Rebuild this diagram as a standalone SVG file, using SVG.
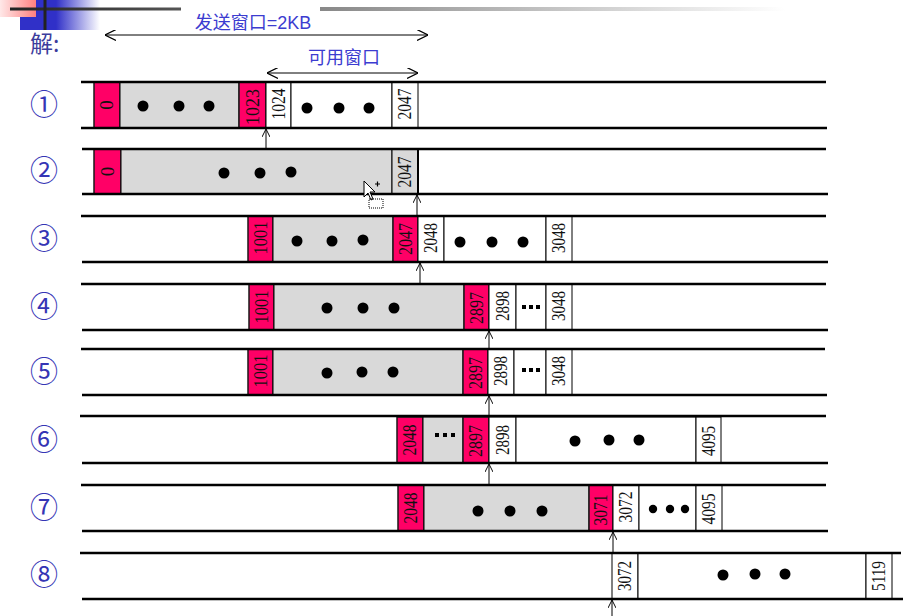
<svg xmlns="http://www.w3.org/2000/svg" width="915" height="616" viewBox="0 0 915 616">
<defs>
<style>
.ln{stroke:#000;stroke-width:2.5;fill:none}
.red{fill:#FF0066;stroke:#1a1a1a;stroke-width:1.5}
.gray{fill:#D9D9D9;stroke:#000;stroke-width:1}
.wh{fill:#fff;stroke:#000;stroke-width:1}
.n{font-family:"Liberation Serif",serif;font-size:19px;fill:#111;text-anchor:middle}
.cn{font-family:"Noto Sans CJK SC",sans-serif;fill:#3535b5;font-size:28px;text-anchor:middle}
.t{font-family:"Liberation Sans","Noto Sans CJK SC",sans-serif;fill:#3c3cd0;font-size:18px;text-anchor:middle}
.ar{stroke:#000;stroke-width:1;fill:none}
</style>
<marker id="ah" viewBox="0 0 10 10" refX="10" refY="5" markerWidth="8" markerHeight="8" orient="auto-start-reverse" markerUnits="userSpaceOnUse"><path d="M0,0 L10,5 L0,10" fill="none" stroke="#000" stroke-width="1.2"/></marker>
<marker id="ah2" viewBox="0 0 10 10" refX="10" refY="5" markerWidth="11" markerHeight="11" orient="auto-start-reverse" markerUnits="userSpaceOnUse"><path d="M0,0 L10,5 L0,10" fill="none" stroke="#000" stroke-width="1.1"/></marker>
<linearGradient id="gRed" x1="0" x2="1" y1="0" y2="0"><stop offset="0" stop-color="#ffe8e8"/><stop offset="1" stop-color="#ff8080"/></linearGradient>
<linearGradient id="gBlue" x1="0" x2="1" y1="0" y2="0"><stop offset="0" stop-color="#3030c8"/><stop offset="0.45" stop-color="#3030c8"/><stop offset="1" stop-color="#ffffff"/></linearGradient>
<linearGradient id="gDark" x1="0" x2="1" y1="0" y2="0"><stop offset="0" stop-color="#222"/><stop offset="1" stop-color="#555"/></linearGradient>
<linearGradient id="gGray" x1="0" x2="1" y1="0" y2="0"><stop offset="0" stop-color="#888"/><stop offset="1" stop-color="#fff"/></linearGradient>
</defs>
<rect width="915" height="616" fill="#fff"/>

<g id="decoration">
<rect x="20" y="0" width="80" height="30" fill="url(#gBlue)"/>
<rect x="0" y="0" width="36" height="17" fill="url(#gRed)"/>
<rect x="10" y="7.5" width="171" height="3" fill="url(#gDark)"/>
<rect x="43.5" y="0" width="3" height="30" fill="#222"/>
<rect x="320" y="7" width="465" height="4" fill="url(#gGray)"/>
</g>

<g id="header">
<text x="30" y="52" font-family="'Noto Sans CJK SC',sans-serif" font-size="23" fill="#3c3c9c">解:</text>
<text class="t" x="253" y="29">发送窗口=2KB</text>
<line class="ar" x1="105" y1="35" x2="428" y2="35" marker-start="url(#ah2)" marker-end="url(#ah2)"/>
<text class="t" x="344" y="64">可用窗口</text>
<line class="ar" x1="267" y1="73" x2="418" y2="73" marker-start="url(#ah2)" marker-end="url(#ah2)"/>
</g>

<g id="labels">
<text class="cn" x="44" y="115">①</text>
<text class="cn" x="44" y="181">②</text>
<text class="cn" x="44" y="249">③</text>
<text class="cn" x="44" y="317">④</text>
<text class="cn" x="44" y="382">⑤</text>
<text class="cn" x="44" y="450">⑥</text>
<text class="cn" x="44" y="518">⑦</text>
<text class="cn" x="44" y="585">⑧</text>
</g>

<g id="row1">
<rect class="red" x="94" y="82" width="26" height="46"/>
<rect class="gray" x="120" y="82" width="119" height="46"/>
<rect class="red" x="239" y="82" width="27" height="46"/>
<rect class="wh" x="266" y="82" width="25" height="46"/>
<rect class="wh" x="291" y="82" width="101" height="46"/>
<rect class="wh" x="392" y="82" width="26" height="46"/>
<line class="ln" x1="81" y1="82" x2="826" y2="82"/>
<line class="ln" x1="81" y1="128" x2="827" y2="128"/>
<text class="n" transform="translate(107,105) rotate(-90)" dy="6">0</text>
<text class="n" transform="translate(252.5,107) rotate(-90)" dy="6" textLength="36" lengthAdjust="spacingAndGlyphs">1023</text>
<text class="n" transform="translate(278.5,104) rotate(-90)" dy="6" textLength="31" lengthAdjust="spacingAndGlyphs">1024</text>
<text class="n" transform="translate(405,104) rotate(-90)" dy="6" textLength="31" lengthAdjust="spacingAndGlyphs">2047</text>
<circle cx="143" cy="106" r="5.5"/><circle cx="179" cy="106" r="5.5"/><circle cx="209" cy="106" r="5.5"/>
<circle cx="307" cy="108" r="5.5"/><circle cx="339" cy="108" r="5.5"/><circle cx="369" cy="108" r="5.5"/>
</g>

<g id="row2">
<rect class="red" x="94" y="149" width="27" height="45"/>
<rect class="gray" x="121" y="149" width="271" height="45"/>
<rect class="gray" x="392" y="149" width="26" height="45"/>
<line x1="418" y1="149" x2="418" y2="194" stroke="#000" stroke-width="2"/>
<line class="ln" x1="82" y1="149" x2="826" y2="149"/>
<line class="ln" x1="82" y1="194" x2="828" y2="194"/>
<text class="n" transform="translate(107.5,171.5) rotate(-90)" dy="6">0</text>
<text class="n" transform="translate(405,172) rotate(-90)" dy="6" textLength="31" lengthAdjust="spacingAndGlyphs">2047</text>
<circle cx="224" cy="173" r="5.5"/><circle cx="260" cy="173" r="5.5"/><circle cx="291" cy="172" r="5.5"/>
</g>

<g id="row3">
<rect class="red" x="248" y="216" width="25" height="46"/>
<rect class="gray" x="273" y="216" width="120" height="46"/>
<rect class="red" x="393" y="216" width="25" height="46"/>
<rect class="wh" x="418" y="216" width="26" height="46"/>
<rect class="wh" x="444" y="216" width="102" height="46"/>
<rect class="wh" x="546" y="216" width="26" height="46"/>
<line class="ln" x1="81" y1="216" x2="826" y2="216"/>
<line class="ln" x1="82" y1="262" x2="828" y2="262"/>
<text class="n" transform="translate(260.5,238) rotate(-90)" dy="6" textLength="33" lengthAdjust="spacingAndGlyphs">1001</text>
<text class="n" transform="translate(405.5,239) rotate(-90)" dy="6" textLength="32" lengthAdjust="spacingAndGlyphs">2047</text>
<text class="n" transform="translate(431,238) rotate(-90)" dy="6" textLength="30" lengthAdjust="spacingAndGlyphs">2048</text>
<text class="n" transform="translate(559,238) rotate(-90)" dy="6" textLength="30" lengthAdjust="spacingAndGlyphs">3048</text>
<circle cx="297" cy="241" r="5.5"/><circle cx="332" cy="241" r="5.5"/><circle cx="363" cy="240" r="5.5"/>
<circle cx="460" cy="242" r="5.5"/><circle cx="492" cy="242" r="5.5"/><circle cx="523" cy="242" r="5.5"/>
</g>

<g id="row4">
<rect class="red" x="249" y="284" width="25" height="46"/>
<rect class="gray" x="274" y="284" width="190" height="46"/>
<rect class="red" x="464" y="284" width="25" height="46"/>
<rect class="wh" x="489" y="284" width="27" height="46"/>
<rect class="wh" x="516" y="284" width="30" height="46"/>
<rect class="wh" x="546" y="284" width="26" height="46"/>
<line class="ln" x1="81" y1="284" x2="826" y2="284"/>
<line class="ln" x1="82" y1="330" x2="828" y2="330"/>
<text class="n" transform="translate(261.5,307) rotate(-90)" dy="6" textLength="33" lengthAdjust="spacingAndGlyphs">1001</text>
<text class="n" transform="translate(476.5,308) rotate(-90)" dy="6" textLength="32" lengthAdjust="spacingAndGlyphs">2897</text>
<text class="n" transform="translate(502.5,306) rotate(-90)" dy="6" textLength="30" lengthAdjust="spacingAndGlyphs">2898</text>
<text class="n" transform="translate(559,306) rotate(-90)" dy="6" textLength="30" lengthAdjust="spacingAndGlyphs">3048</text>
<circle cx="327" cy="308" r="5.5"/><circle cx="363" cy="308" r="5.5"/><circle cx="394" cy="308" r="5.5"/>
<rect x="522" y="305" width="4" height="4"/><rect x="529" y="305" width="4" height="4"/><rect x="536" y="305" width="4" height="4"/>
</g>

<g id="row5">
<rect class="red" x="248" y="349" width="25" height="46"/>
<rect class="gray" x="273" y="349" width="190" height="46"/>
<rect class="red" x="463" y="349" width="25" height="46"/>
<rect class="wh" x="488" y="349" width="26" height="46"/>
<rect class="wh" x="514" y="349" width="32" height="46"/>
<rect class="wh" x="546" y="349" width="26" height="46"/>
<line class="ln" x1="81" y1="349" x2="825" y2="349"/>
<line class="ln" x1="82" y1="395" x2="827" y2="395"/>
<text class="n" transform="translate(260.5,371) rotate(-90)" dy="6" textLength="33" lengthAdjust="spacingAndGlyphs">1001</text>
<text class="n" transform="translate(475.5,373) rotate(-90)" dy="6" textLength="32" lengthAdjust="spacingAndGlyphs">2897</text>
<text class="n" transform="translate(501,371) rotate(-90)" dy="6" textLength="30" lengthAdjust="spacingAndGlyphs">2898</text>
<text class="n" transform="translate(559,371) rotate(-90)" dy="6" textLength="30" lengthAdjust="spacingAndGlyphs">3048</text>
<circle cx="327" cy="373" r="5.5"/><circle cx="362" cy="372" r="5.5"/><circle cx="393" cy="372" r="5.5"/>
<rect x="522" y="368" width="4" height="4"/><rect x="529" y="368" width="4" height="4"/><rect x="536" y="368" width="4" height="4"/>
</g>

<g id="row6">
<rect class="red" x="397" y="417" width="26" height="46"/>
<rect class="gray" x="423" y="417" width="40" height="46"/>
<rect class="red" x="463" y="417" width="26" height="46"/>
<rect class="wh" x="489" y="417" width="27" height="46"/>
<rect class="wh" x="516" y="417" width="180" height="46"/>
<rect class="wh" x="696" y="417" width="25" height="46"/>
<line class="ln" x1="80" y1="416" x2="826" y2="416"/>
<line class="ln" x1="82" y1="463" x2="828" y2="463"/>
<text class="n" transform="translate(410,440) rotate(-90)" dy="6" textLength="31" lengthAdjust="spacingAndGlyphs">2048</text>
<text class="n" transform="translate(476,441) rotate(-90)" dy="6" textLength="32" lengthAdjust="spacingAndGlyphs">2897</text>
<text class="n" transform="translate(502.5,440) rotate(-90)" dy="6" textLength="30" lengthAdjust="spacingAndGlyphs">2898</text>
<text class="n" transform="translate(708.5,441) rotate(-90)" dy="6" textLength="30" lengthAdjust="spacingAndGlyphs">4095</text>
<rect x="435" y="433" width="4" height="4"/><rect x="443" y="433" width="4" height="4"/><rect x="451" y="433" width="4" height="4"/>
<circle cx="575" cy="441" r="5.5"/><circle cx="609" cy="440" r="5.5"/><circle cx="639" cy="440" r="5.5"/>
</g>

<g id="row7">
<rect class="red" x="398" y="485" width="26" height="46"/>
<rect class="gray" x="424" y="485" width="165" height="46"/>
<rect class="red" x="589" y="485" width="24" height="46"/>
<rect class="wh" x="613" y="485" width="26" height="46"/>
<rect class="wh" x="639" y="485" width="57" height="46"/>
<rect class="wh" x="696" y="485" width="26" height="46"/>
<line class="ln" x1="81" y1="485" x2="826" y2="485"/>
<line class="ln" x1="82" y1="531" x2="828" y2="531"/>
<text class="n" transform="translate(411,508) rotate(-90)" dy="6" textLength="31" lengthAdjust="spacingAndGlyphs">2048</text>
<text class="n" transform="translate(601,510) rotate(-90)" dy="6" textLength="31" lengthAdjust="spacingAndGlyphs">3071</text>
<text class="n" transform="translate(626,507) rotate(-90)" dy="6" textLength="31" lengthAdjust="spacingAndGlyphs">3072</text>
<text class="n" transform="translate(709,509) rotate(-90)" dy="6" textLength="31" lengthAdjust="spacingAndGlyphs">4095</text>
<circle cx="478" cy="511" r="5.5"/><circle cx="510" cy="511" r="5.5"/><circle cx="542" cy="511" r="5.5"/>
<circle cx="653" cy="509" r="4.2"/><circle cx="670" cy="509" r="4.2"/><circle cx="685" cy="509" r="4.2"/>
</g>

<g id="row8">
<rect class="wh" x="612" y="553" width="26" height="46"/>
<rect class="wh" x="638" y="553" width="228" height="46"/>
<rect class="wh" x="866" y="553" width="26" height="46"/>
<line class="ln" x1="80" y1="553" x2="901" y2="553"/>
<line class="ln" x1="82" y1="599" x2="903" y2="599"/>
<text class="n" transform="translate(625,576) rotate(-90)" dy="6" textLength="30" lengthAdjust="spacingAndGlyphs">3072</text>
<text class="n" transform="translate(879,576) rotate(-90)" dy="6" textLength="30" lengthAdjust="spacingAndGlyphs">5119</text>
<circle cx="723" cy="575" r="5.5"/><circle cx="755" cy="574" r="5.5"/><circle cx="785" cy="574" r="5.5"/>
</g>

<g id="connectors">
<line class="ar" x1="266" y1="148" x2="266" y2="129" marker-end="url(#ah)"/>
<line class="ar" x1="417" y1="215" x2="417" y2="195" marker-end="url(#ah)"/>
<line class="ar" x1="420" y1="283" x2="420" y2="263" marker-end="url(#ah)"/>
<line class="ar" x1="489" y1="348" x2="489" y2="331" marker-end="url(#ah)"/>
<line class="ar" x1="489" y1="416" x2="489" y2="396" marker-end="url(#ah)"/>
<line class="ar" x1="489" y1="484" x2="489" y2="464" marker-end="url(#ah)"/>
<line class="ar" x1="613" y1="552" x2="613" y2="532" marker-end="url(#ah)"/>
<line class="ar" x1="612" y1="616" x2="612" y2="600" marker-end="url(#ah)"/>
</g>

<g id="cursor">
<path d="M364,181 L364,197 L368,193 L371,200 L373,199 L370,192 L375,192 Z" fill="#fff" stroke="#000" stroke-width="1"/>
<path d="M375,184 h5 M377.5,181.5 v5" stroke="#000" stroke-width="1.2"/>
<rect x="369" y="199" width="14" height="9" fill="none" stroke="#000" stroke-width="1" stroke-dasharray="1,1"/>
</g>
</svg>
